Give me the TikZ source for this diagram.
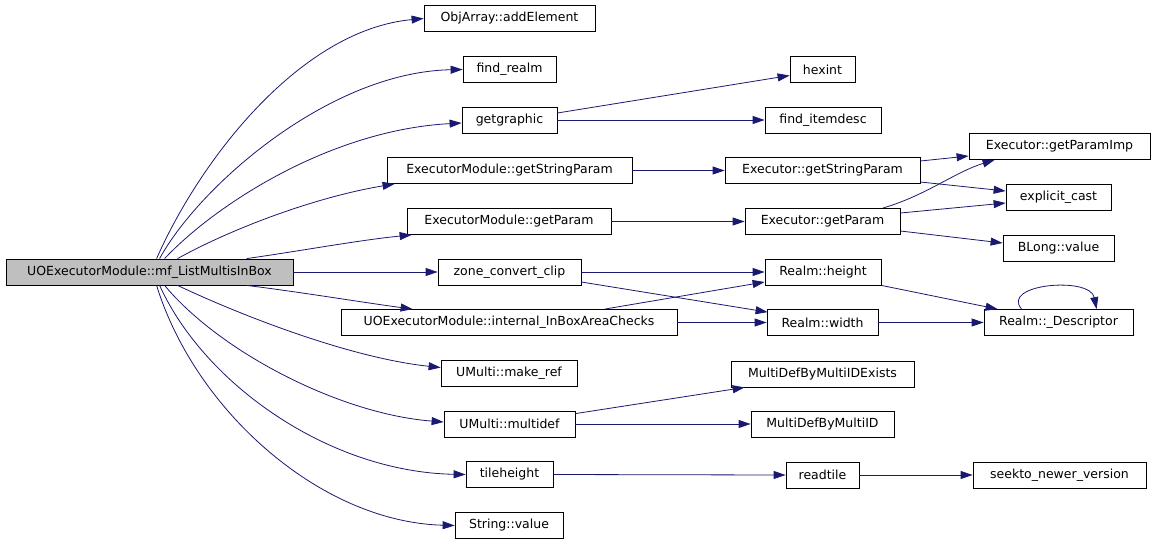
\documentclass[tikz,border=0pt]{standalone}
\usepackage{fontspec}
\setmainfont{DejaVu Sans}
\usepackage{xcolor}
\usepackage{tikz}
\usetikzlibrary{arrows.meta,positioning}
\definecolor{calledge}{RGB}{25,25,112}
\definecolor{rootfill}{RGB}{191,191,191}

\tikzset{
    fnbox/.style={draw=black,line width=0.8pt,fill=white,minimum height=26pt,inner sep=0pt,
        font=\fontsize{12.5}{14}\selectfont},
    rootbox/.style={fnbox,fill=rootfill},
    call/.style={draw=calledge,line width=0.8pt,-{Triangle[length=12pt,width=8pt]}}
}

\begin{document}
\begin{tikzpicture}[x=1pt,y=-1pt]
    \useasboundingbox (0,0) rectangle (1155,544);
    \node[rootbox,minimum width=287pt] (main) at (149.5,272) {UOExecutorModule::mf\_ListMultisInBox};

    \node[fnbox,minimum width=171pt] (addelem) at (509.5,18.5) {ObjArray::addElement};
    \node[fnbox,minimum width=93pt] (findrealm) at (509.5,69.5) {find\_realm};
    \node[fnbox,minimum width=95pt] (getgraphic) at (509.5,120) {getgraphic};
    \node[fnbox,minimum width=245pt] (emstrparam) at (509.5,170.5) {ExecutorModule::getStringParam};
    \node[fnbox,minimum width=204pt] (emparam) at (509,221.5) {ExecutorModule::getParam};
    \node[fnbox,minimum width=143pt] (zoneclip) at (509.5,272) {zone\_convert\_clip};
    \node[fnbox,minimum width=336pt] (inboxchecks) at (509,322.5) {UOExecutorModule::internal\_InBoxAreaChecks};
    \node[fnbox,minimum width=136pt] (makeref) at (509,373.5) {UMulti::make\_ref};
    \node[fnbox,minimum width=131pt] (multidef) at (509.5,424) {UMulti::multidef};
    \node[fnbox,minimum width=87pt] (tileheight) at (509.5,474.5) {tileheight};
    \node[fnbox,minimum width=108pt] (strvalue) at (509,525.5) {String::value};

    \node[fnbox,minimum width=65pt] (hexint) at (822.5,69.5) {hexint};
    \node[fnbox,minimum width=116pt] (finditemdesc) at (823,120) {find\_itemdesc};
    \node[fnbox,minimum width=195pt] (exstrparam) at (822.5,170.5) {Executor::getStringParam};
    \node[fnbox,minimum width=155pt] (exparam) at (822.5,221.5) {Executor::getParam};
    \node[fnbox,minimum width=116pt] (rheight) at (823,272) {Realm::height};
    \node[fnbox,minimum width=111pt] (rwidth) at (822.5,322.5) {Realm::width};
    \node[fnbox,minimum width=183pt] (mdexists) at (822.5,374) {MultiDefByMultiIDExists};
    \node[fnbox,minimum width=143pt] (mdbyid) at (822.5,424) {MultiDefByMultiID};
    \node[fnbox,minimum width=73pt] (readtile) at (822.5,475) {readtile};

    \node[fnbox,minimum width=181pt] (paramimp) at (1059.5,146.5) {Executor::getParamImp};
    \node[fnbox,minimum width=105pt] (explcast) at (1058.5,197.5) {explicit\_cast};
    \node[fnbox,minimum width=111pt] (blongval) at (1058.5,248.5) {BLong::value};
    \node[fnbox,minimum width=149pt] (rdescr) at (1058.5,322.5) {Realm::\_Descriptor};
    \node[fnbox,minimum width=173pt] (seekto) at (1059.5,475) {seekto\_newer\_version};

    % calls from the root
    \draw[call] ([xshift=151pt]main.north west) .. controls (200,160) and (300,30) .. (addelem.west);
    \draw[call] ([xshift=154pt]main.north west) .. controls (200,185) and (330,72) .. (findrealm.west);
    \draw[call] ([xshift=159pt]main.north west) .. controls (215,205) and (330,130) .. ([yshift=-3pt]getgraphic.west);
    \draw[call] ([xshift=172pt]main.north west) .. controls (225,232) and (310,198) .. ([xshift=8pt]emstrparam.south west);
    \draw[call] ([xshift=241pt]main.north west) .. controls (300,251) and (360,240) .. ([xshift=5pt]emparam.south west);
    \draw[call] (main.east) -- (zoneclip.west);
    \draw[call] ([xshift=241pt]main.south west) .. controls (300,292) and (360,302) .. ([xshift=72pt]inboxchecks.north west);
    \draw[call] ([xshift=172pt]main.south west) .. controls (240,315) and (350,358) .. ([yshift=6pt]makeref.west);
    \draw[call] ([xshift=159pt]main.south west) .. controls (220,352) and (340,414) .. ([yshift=2pt]multidef.west);
    \draw[call] ([xshift=154pt]main.south west) .. controls (205,385) and (330,472) .. (tileheight.west);
    \draw[call] ([xshift=151pt]main.south west) .. controls (195,410) and (320,522) .. (strvalue.west);

    % second level
    \draw[call] ([yshift=7pt]getgraphic.east) -- ([yshift=-6pt]hexint.west);
    \draw[call] (getgraphic.east) -- (finditemdesc.west);
    \draw[call] (emstrparam.east) -- (exstrparam.west);
    \draw[call] (emparam.east) -- (exparam.west);
    \draw[call] (zoneclip.east) -- (rheight.west);
    \draw[call] ([yshift=-10pt]zoneclip.east) -- ([xshift=1pt,yshift=-3pt]rwidth.north west);
    \draw[call] ([xshift=264pt]inboxchecks.north west) -- ([yshift=-10pt]rheight.west);
    \draw[call] (inboxchecks.east) -- (rwidth.west);
    \draw[call] ([yshift=-3pt]multidef.north east) -- ([xshift=14pt]mdexists.south west);
    \draw[call] (multidef.east) -- (mdbyid.west);
    \draw[call] (tileheight.east) -- (readtile.west);

    % third level
    \draw[call] ([yshift=9.5pt]exstrparam.east) -- ([yshift=-9.5pt]paramimp.west);
    \draw[call] ([yshift=-11.5pt]exstrparam.east) -- ([yshift=6.5pt]explcast.west);
    \draw[call] ([xshift=138pt]exparam.north west) .. controls (925,196) and (955,172) .. ([xshift=26pt]paramimp.south west);
    \draw[call] ([yshift=8.5pt]exparam.east) -- ([yshift=-5.5pt]explcast.west);
    \draw[call] ([yshift=-9.5pt]exparam.east) -- ([yshift=5.5pt]blongval.west);
    \draw[call] (rheight.south east) -- ([xshift=14pt]rdescr.north west);
    \draw[call] (rwidth.east) -- (rdescr.west);
    \draw[call] ([xshift=38pt]rdescr.north west) .. controls (1000,284) and (1090,276) .. ([xshift=113pt]rdescr.north west);
    \draw[call] (readtile.east) -- (seekto.west);
\end{tikzpicture}
\end{document}
